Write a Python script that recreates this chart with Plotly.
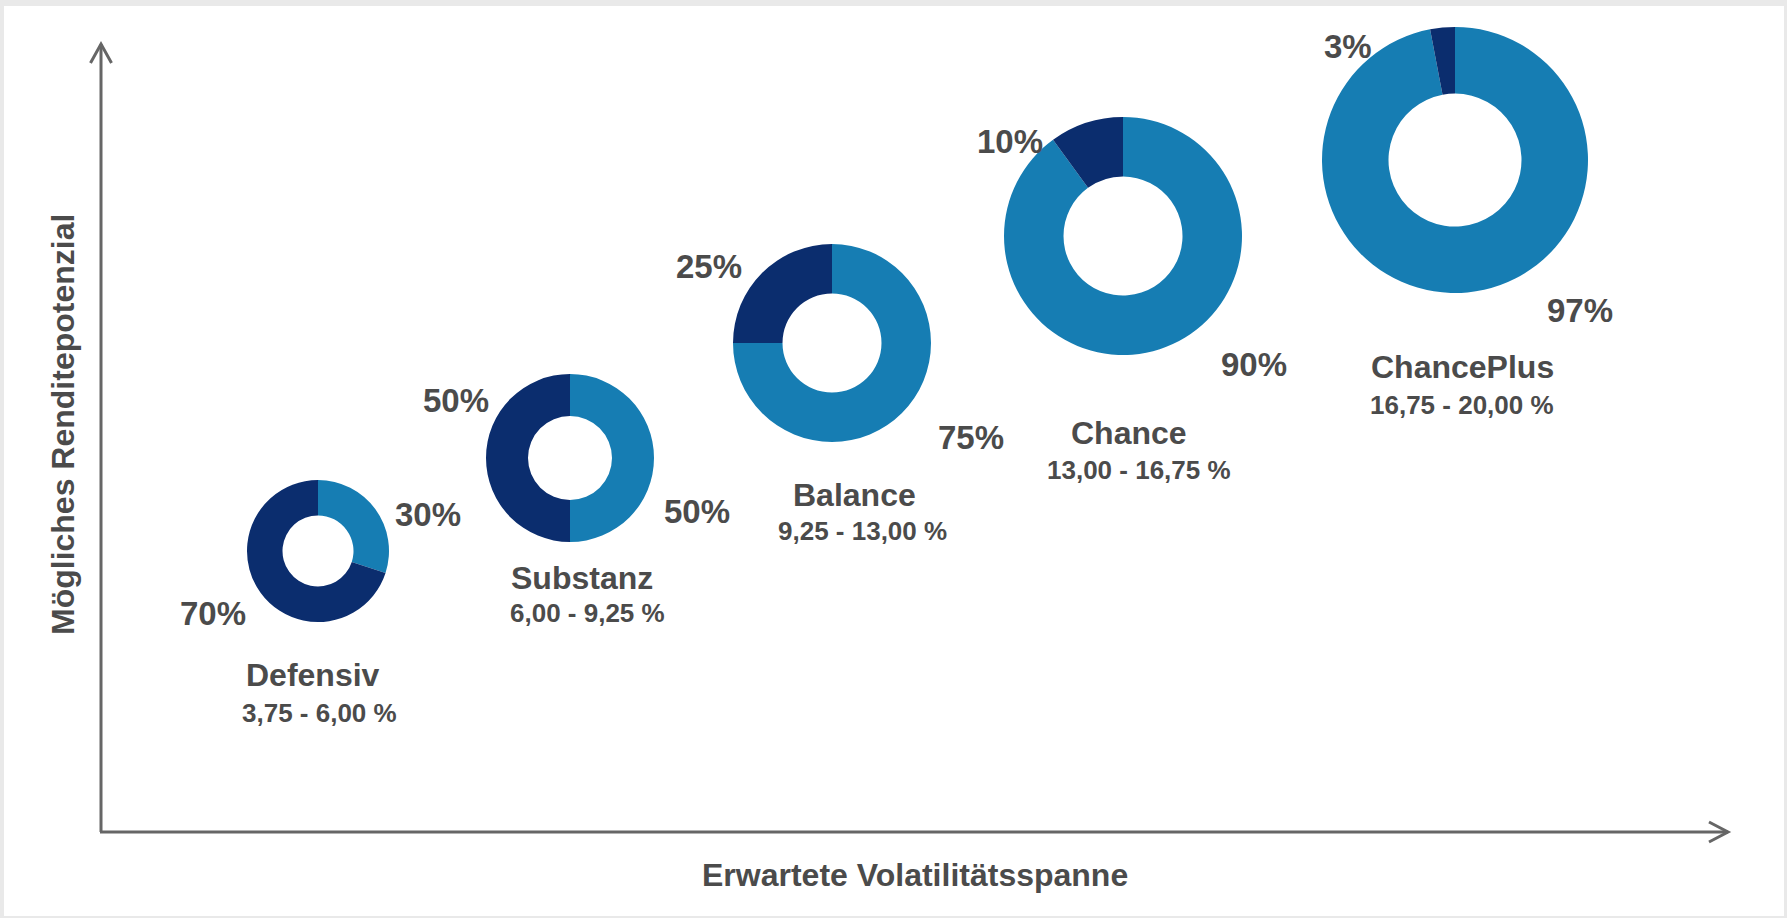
import plotly.graph_objects as go

# ---- data ----
portfolios = ["Defensiv", "Substanz", "Balance", "Chance", "ChancePlus"]
ranges = ["3,75 - 6,00 %", "6,00 - 9,25 %", "9,25 - 13,00 %", "13,00 - 16,75 %", "16,75 - 20,00 %"]
share_light = [30, 50, 75, 90, 97]
share_dark = [70, 50, 25, 10, 3]
x_title = "Erwartete Volatilitätsspanne"
y_title = "Mögliches Renditepotenzial"

# ---- layout (pixel positions) ----
W, H = 1787, 918
centers = [(318, 551), (570, 458), (832, 343), (1123, 236), (1455, 160)]
radii = [71, 84, 99, 119, 133]
light_lbl = [(428, 514), (697, 511), (971, 437), (1254, 364), (1580, 310)]
dark_lbl = [(213, 613), (456, 400), (709, 266), (1010, 141), (1348, 47)]
name_pos = [(313, 675), (582, 578), (854, 495), (1129, 433), (1462, 367)]
range_pos = [(319, 713), (587, 613), (862, 531), (1139, 470), (1462, 405)]

LIGHT = "#167db3"
DARK = "#0b2d6e"
TXT = "#4b4b4b"
AX = "#666666"
FONT = "Liberation Sans, Arial, sans-serif"


def px(x):
    return x / W


def py(y):
    return 1 - y / H


fig = go.Figure()
for i, name in enumerate(portfolios):
    cx, cy = centers[i]
    r = radii[i]
    fig.add_trace(go.Pie(
        values=[share_light[i], share_dark[i]],
        labels=["Anteil A", "Anteil B"],
        hole=0.5,
        sort=False,
        direction="clockwise",
        rotation=0,
        marker=dict(colors=[LIGHT, DARK], line=dict(width=0)),
        textinfo="none",
        hoverinfo="skip",
        showlegend=False,
        domain=dict(x=[px(cx - r), px(cx + r)], y=[py(cy + r), py(cy - r)]),
        name=name,
    ))

ann = []
for i, name in enumerate(portfolios):
    for (x, y), v in ((light_lbl[i], share_light[i]), (dark_lbl[i], share_dark[i])):
        ann.append(dict(x=px(x), y=py(y), xref="paper", yref="paper", text=f"<b>{v}%</b>",
                        showarrow=False, xanchor="center", yanchor="middle",
                        font=dict(size=33, color=TXT, family=FONT)))
    ann.append(dict(x=px(name_pos[i][0]), y=py(name_pos[i][1]), xref="paper", yref="paper",
                    text=f"<b>{name}</b>", showarrow=False, xanchor="center", yanchor="middle",
                    font=dict(size=32, color=TXT, family=FONT)))
    ann.append(dict(x=px(range_pos[i][0]), y=py(range_pos[i][1]), xref="paper", yref="paper",
                    text=f"<b>{ranges[i]}</b>", showarrow=False, xanchor="center", yanchor="middle",
                    font=dict(size=26, color=TXT, family=FONT)))

ann.append(dict(x=px(915), y=py(875), xref="paper", yref="paper", text=f"<b>{x_title}</b>",
                showarrow=False, xanchor="center", yanchor="middle",
                font=dict(size=32, color=TXT, family=FONT)))
ann.append(dict(x=px(63), y=py(425), xref="paper", yref="paper", text=f"<b>{y_title}</b>",
                showarrow=False, xanchor="center", yanchor="middle", textangle=-90,
                font=dict(size=32, color=TXT, family=FONT)))

# axis geometry
ox, oy = 101, 832
ytop = 44
xend = 1728
shapes = [
    dict(type="rect", xref="paper", yref="paper", x0=px(4), x1=px(1784), y0=py(916), y1=py(6),
         fillcolor="white", line=dict(width=0), layer="below"),
    dict(type="line", xref="paper", yref="paper", x0=px(ox), y0=py(oy), x1=px(ox), y1=py(ytop),
         line=dict(color=AX, width=3)),
    dict(type="line", xref="paper", yref="paper", x0=px(ox - 1), y0=py(oy), x1=px(xend), y1=py(oy),
         line=dict(color=AX, width=3)),
    dict(type="path", xref="paper", yref="paper",
         path=f"M {px(ox-10.5)} {py(ytop+19)} L {px(ox)} {py(ytop)} L {px(ox+10.5)} {py(ytop+19)}",
         line=dict(color=AX, width=3)),
    dict(type="path", xref="paper", yref="paper",
         path=f"M {px(xend-19)} {py(oy-10)} L {px(xend)} {py(oy)} L {px(xend-19)} {py(oy+10)}",
         line=dict(color=AX, width=3)),
]

fig.update_layout(
    width=W, height=H,
    margin=dict(l=0, r=0, t=0, b=0),
    paper_bgcolor="#e9e9e9",
    plot_bgcolor="white",
    annotations=ann,
    shapes=shapes,
    font=dict(family=FONT, color=TXT),
)

fig.write_html("out.html", config={"displayModeBar": False},
               post_script="document.body.style.margin='0';")
